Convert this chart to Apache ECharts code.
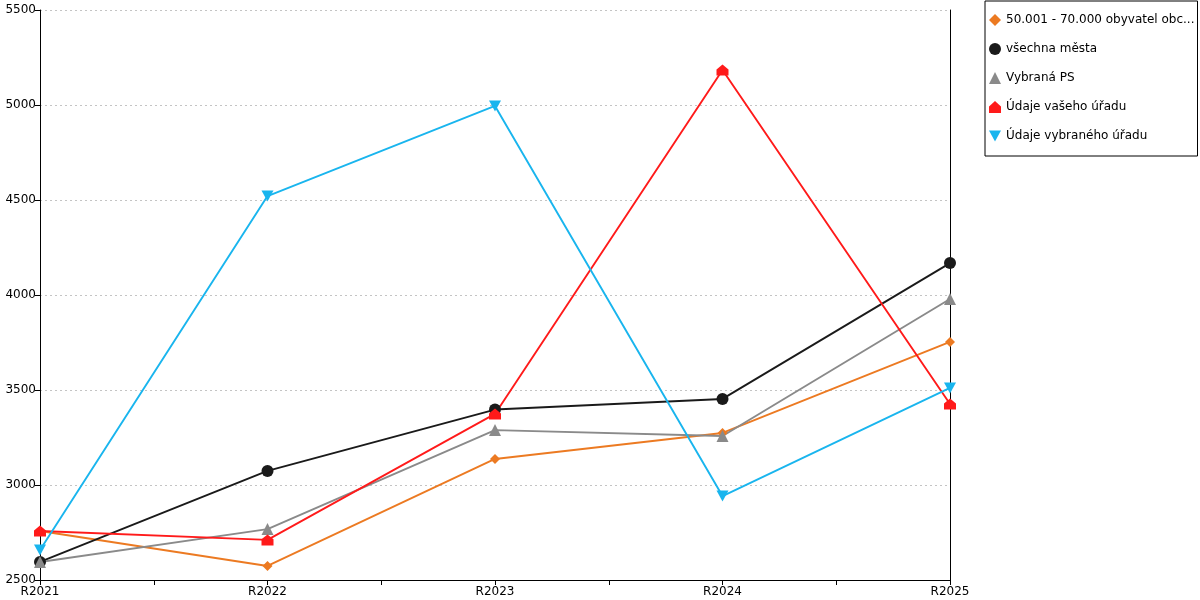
<!DOCTYPE html>
<html>
<head>
<meta charset="utf-8">
<script src="https://cdn.jsdelivr.net/npm/echarts@6/dist/echarts.min.js"></script>
<style>
  html, body { margin: 0; padding: 0; background: #fff; }
  #chart { width: 1200px; height: 600px; }
</style>
</head>
<body>
<div id="chart"></div>
<script>
// data
const categories = ['R2021', 'R2022', 'R2023', 'R2024', 'R2025'];
const seriesNames = [
    '50.001 - 70.000 obyvatel obc...',
    'všechna města',
    'Vybraná PS',
    'Údaje vašeho úřadu',
    'Údaje vybraného úřadu'
];
const obce = [2758, 2574, 3137, 3274, 3753];
const mesta = [2595, 3074, 3397, 3453, 4168];
const vybranaPS = [2595, 2768, 3289, 3258, 3979];
const vasUrad = [2758, 2711, 3374, 5184, 3426];
const vybranyUrad = [2658, 4521, 4995, 2942, 3511];
const yMin = 2500, yMax = 5500, yStep = 500;

const font = 'DejaVu Sans';
const house = 'path://M5,0 L10,4.5 L10,10 L0,10 L0,4.5 Z';
const downTri = 'path://M0,0 L10,0 L5,9 Z';
const chart = echarts.init(document.getElementById('chart'));

// category index -> [x, y] so the half-step ticks can be drawn on a value axis
function pts(arr) {
    return arr.map((v, i) => [i, v]);
}

function line(name, data, color, symbol, size) {
    return {
        name: name,
        type: 'line',
        data: pts(data),
        symbol: symbol,
        symbolSize: size,
        showAllSymbol: true,
        lineStyle: { color: color, width: 1.9 },
        itemStyle: { color: color },
        animation: false
    };
}

const icons = ['diamond', 'circle', 'triangle', house, downTri];

const option = {
    backgroundColor: '#fff',
    textStyle: { fontFamily: font },
    grid: { left: 40, right: 250, top: 10, bottom: 20 },
    legend: {
        orient: 'vertical',
        left: 985,
        top: 1,
        padding: [12, 3, 13, 4],
        itemGap: 15,
        itemWidth: 12,
        itemHeight: 12,
        borderColor: '#000',
        borderWidth: 1,
        textStyle: {
            fontFamily: font, fontSize: 12, color: '#000', lineHeight: 14
        },
        data: seriesNames.map((n, i) => ({ name: n, icon: icons[i] }))
    },
    xAxis: {
        type: 'value',
        min: 0,
        max: categories.length - 1,
        interval: 0.5,
        axisLine: { lineStyle: { color: '#000', width: 1 } },
        axisTick: { length: 5, lineStyle: { color: '#000' } },
        splitLine: { show: false },
        axisLabel: {
            color: '#000', fontSize: 12, fontFamily: font, margin: 6,
            showMaxLabel: true, showMinLabel: true,
            formatter: v => Number.isInteger(v) ? categories[v] : ''
        }
    },
    yAxis: [{
        type: 'value',
        min: yMin,
        max: yMax,
        interval: yStep,
        axisLine: { show: true, lineStyle: { color: '#000', width: 1 } },
        axisTick: { show: true, length: 5, lineStyle: { color: '#000' } },
        axisLabel: {
            color: '#000', fontSize: 12, fontFamily: font, margin: 4,
            formatter: v => String(v)
        },
        splitLine: { lineStyle: { color: '#c4c4c4', type: [2, 3], width: 1 } }
    }, {
        type: 'value',
        position: 'right',
        min: yMin,
        max: yMax,
        interval: yStep,
        axisLine: { show: true, lineStyle: { color: '#000', width: 1 } },
        axisTick: { show: false },
        axisLabel: { show: false },
        splitLine: { show: false }
    }],
    series: [
        line(seriesNames[0], obce, '#ec7a22', 'diamond', 10),
        line(seriesNames[1], mesta, '#1a1a1a', 'circle', 12),
        line(seriesNames[2], vybranaPS, '#8a8a8a', 'triangle', 12),
        line(seriesNames[3], vasUrad, '#ff1a1a', house, [12, 11]),
        line(seriesNames[4], vybranyUrad, '#19b5ee', downTri, [12, 11])
    ]
};

chart.setOption(option);
</script>
</body>
</html>
